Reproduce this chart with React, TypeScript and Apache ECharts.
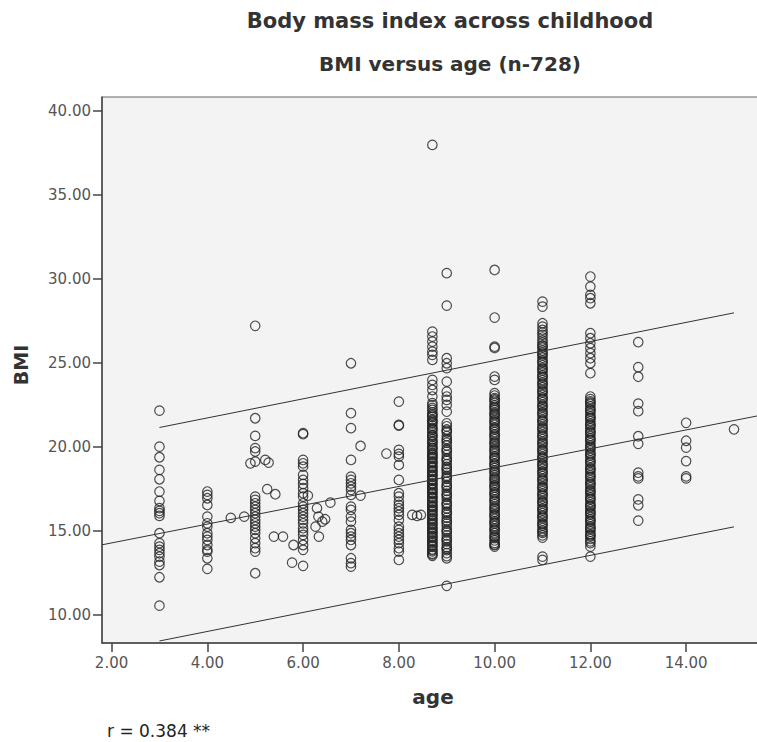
import React, { useEffect, useRef } from "react";
import * as echarts from "echarts";

// Tick values
const xTicks = [2, 4, 6, 8, 10, 12, 14];
const yTicks = [10, 15, 20, 25, 30, 35, 40];

// BMI values per age column
const age3 = [22.15, 20.01, 19.38, 18.63, 18.07, 17.34, 16.78, 16.35, 16.19, 16.05, 15.89, 14.86, 14.27, 14.06, 13.87, 13.67, 13.47, 13.17, 12.97, 12.24, 10.55];
const age4 = [17.34, 17.14, 16.94, 16.54, 15.85, 15.45, 15.25, 14.86, 14.66, 14.46, 14.16, 13.87, 13.77, 13.37, 12.74];
const age5 = [27.2, 21.7, 20.65, 19.92, 19.72, 19.12, 17.04, 16.84, 16.64, 16.44, 16.25, 16.05, 15.85, 15.65, 15.45, 15.25, 15.06, 14.86, 14.56, 14.27, 13.97, 13.77, 12.48];
const age6 = [20.81, 20.75, 19.22, 19.02, 18.82, 18.33, 18.03, 17.79, 17.54, 17.24, 17.04, 16.64, 16.44, 16.25, 16.05, 15.85, 15.65, 15.45, 15.16, 14.96, 14.76, 14.46, 14.16, 13.87, 12.92];
const age7 = [24.97, 22.0, 21.11, 19.22, 18.23, 18.03, 17.83, 17.63, 17.44, 17.14, 16.44, 16.25, 15.85, 15.55, 15.06, 14.86, 14.66, 14.46, 14.16, 13.37, 13.08, 12.87];
const age8 = [22.69, 21.3, 21.26, 19.82, 19.58, 19.42, 18.92, 18.03, 17.24, 17.04, 16.74, 16.54, 16.35, 16.15, 15.95, 15.65, 15.25, 15.06, 14.86, 14.66, 14.46, 14.27, 13.97, 13.77, 13.27];
const age8_7 = [37.96, 26.85, 26.56, 26.26, 25.96, 25.66, 25.47, 25.17, 23.98, 23.68, 23.38, 22.99,
  22.6, 22.48, 22.31, 22.2, 22.04, 21.93, 21.78, 21.62, 21.55, 21.4, 21.26, 21.13, 21.0, 20.87, 20.71, 20.6, 20.45, 20.33, 20.18, 20.05,
  19.94, 19.8, 19.66, 19.52, 19.41, 19.27, 19.13, 19.02, 18.88, 18.74, 18.6, 18.49, 18.35, 18.22, 18.08, 17.97, 17.83, 17.7, 17.56,
  17.43, 17.31, 17.18, 17.04, 16.93, 16.79, 16.65, 16.52, 16.4, 16.27, 16.13, 16.0, 15.88, 15.74, 15.6, 15.49, 15.35, 15.22, 15.08,
  14.96, 14.83, 14.7, 14.57, 14.44, 14.3, 14.18, 14.05, 13.9, 13.78, 13.65, 13.52,
  21.85, 21.47, 21.07, 20.66, 20.28, 19.9, 19.58, 19.35, 19.08, 18.8, 18.55, 18.3, 18.02, 17.78, 17.5, 17.25, 16.98, 16.72, 16.46,
  16.2, 15.95, 15.68, 15.42, 15.15, 14.9, 14.64, 14.37, 14.12, 13.85, 13.6];
const age9 = [30.33, 28.4, 25.27, 24.97, 24.68, 23.88, 23.28, 22.99, 22.79, 22.49, 22.09,
  21.4, 21.22, 21.03, 20.86, 20.64, 20.47, 20.25, 20.08, 19.88, 19.71, 19.52, 19.33, 19.16, 18.97, 18.8, 18.62, 18.46, 18.27, 18.1,
  17.92, 17.74, 17.57, 17.38, 17.21, 17.03, 16.86, 16.67, 16.51, 16.33, 16.15, 15.97, 15.78, 15.62, 15.43, 15.27, 15.08, 14.91,
  14.73, 14.56, 14.38, 14.21, 14.03, 13.86, 13.68, 13.5, 13.37, 11.73,
  20.95, 20.38, 19.8, 19.24, 18.7, 18.18, 17.66, 17.13, 16.6, 16.07, 15.55, 15.0, 14.47, 13.95];
const age10 = [30.52, 27.69, 25.96, 25.88, 24.18, 23.98,
  23.19, 23.05, 22.9, 22.74, 22.61, 22.47, 22.3, 22.18, 22.02, 21.88, 21.73, 21.6, 21.44, 21.31, 21.16, 21.02, 20.87, 20.74, 20.58,
  20.45, 20.3, 20.16, 20.01, 19.88, 19.73, 19.59, 19.44, 19.3, 19.16, 19.02, 18.87, 18.73, 18.59, 18.44, 18.3, 18.16, 18.01, 17.87,
  17.73, 17.58, 17.44, 17.3, 17.15, 17.01, 16.87, 16.72, 16.58, 16.44, 16.29, 16.15, 16.01, 15.86, 15.72, 15.58, 15.43, 15.29,
  15.15, 15.0, 14.86, 14.72, 14.57, 14.43, 14.29, 14.15, 14.06,
  22.82, 22.38, 21.95, 21.52, 21.1, 20.66, 20.23, 19.8, 19.37, 18.95, 18.52, 18.09, 17.66, 17.23, 16.8, 16.36, 15.93, 15.5, 15.07, 14.64, 14.2];
const age11 = [28.64, 28.34, 27.35, 27.15,
  26.95, 26.8, 26.66, 26.5, 26.33, 26.2, 26.04, 25.9, 25.73, 25.6, 25.44, 25.3, 25.14, 25.0, 24.85, 24.7, 24.55, 24.41, 24.26, 24.12,
  23.97, 23.82, 23.68, 23.53, 23.38, 23.24, 23.09, 22.94, 22.8, 22.65, 22.5, 22.36, 22.21, 22.06, 21.92, 21.77, 21.62, 21.48, 21.33,
  21.18, 21.04, 20.89, 20.74, 20.6, 20.45, 20.3, 20.16, 20.01, 19.86, 19.72, 19.57, 19.42, 19.28, 19.13, 18.98, 18.84, 18.69, 18.54,
  18.4, 18.25, 18.1, 17.96, 17.81, 17.66, 17.52, 17.37, 17.22, 17.08, 16.93, 16.78, 16.64, 16.49, 16.34, 16.2, 16.05, 15.9, 15.76,
  15.61, 15.46, 15.32, 15.17, 15.02, 14.88, 14.73, 14.6, 13.47, 13.27,
  26.0, 25.52, 25.07, 24.63, 24.18, 23.75, 23.3, 22.87, 22.43, 22.0, 21.55, 21.11, 20.67, 20.23, 19.8, 19.36, 18.92, 18.48, 18.04,
  17.6, 17.16, 16.72, 16.28, 15.84, 15.4, 14.96];
const age12 = [30.13, 29.53, 29.04, 28.84, 28.54, 26.76, 26.46, 26.16, 25.87, 25.57, 25.27, 24.97, 24.38,
  22.99, 22.84, 22.7, 22.55, 22.4, 22.26, 22.11, 21.97, 21.82, 21.67, 21.53, 21.38, 21.24, 21.09, 20.94, 20.8, 20.65, 20.51, 20.36,
  20.21, 20.07, 19.92, 19.78, 19.63, 19.48, 19.34, 19.19, 19.05, 18.9, 18.75, 18.61, 18.46, 18.32, 18.17, 18.02, 17.88, 17.73, 17.59,
  17.44, 17.29, 17.15, 17.0, 16.86, 16.71, 16.56, 16.42, 16.27, 16.13, 15.98, 15.83, 15.69, 15.54, 15.4, 15.25, 15.1, 14.96, 14.81,
  14.67, 14.52, 14.38, 14.27, 14.06, 13.47,
  22.63, 22.18, 21.74, 21.3, 20.86, 20.42, 19.98, 19.55, 19.11, 18.67, 18.23, 17.8, 17.36, 16.92, 16.48, 16.05, 15.61, 15.17, 14.74];
const age13 = [26.23, 24.74, 24.17, 22.57, 22.12, 20.63, 20.18, 18.46, 18.24, 18.12, 16.87, 16.52, 15.61];
const age14 = [21.43, 20.36, 19.95, 19.15, 18.24, 18.12];
const age15 = [21.04];

// Points lying between the main age columns: [age, BMI]
const offColumnPoints: number[][] = [
  [4.49, 15.77], [4.77, 15.85], [4.9, 19.02], [5.21, 19.22], [5.28, 19.06], [5.25, 17.48], [5.42, 17.18],
  [5.39, 14.66], [5.58, 14.66], [5.8, 14.16], [5.77, 13.11], [6.1, 17.1], [6.57, 16.68], [6.29, 16.35],
  [6.32, 15.85], [6.4, 15.55], [6.46, 15.69], [6.26, 15.25], [6.33, 14.66], [7.2, 20.05], [7.2, 17.1],
  [7.74, 19.6], [8.28, 15.95], [8.38, 15.89], [8.46, 15.95],
];

// Fitted line and prediction bounds, endpoints: [age, BMI]
const fitLine = [[1.8, 14.17], [15.49, 21.84]];
const upperBound = [[3, 21.15], [15, 27.97]];
const lowerBound = [[3, 8.45], [15, 15.24]];

const columns: [number, number[]][] = [
  [3, age3], [4, age4], [5, age5], [6, age6], [7, age7], [8, age8], [8.7, age8_7],
  [9, age9], [10, age10], [11, age11], [12, age12], [13, age13], [14, age14], [15, age15],
];

export default function App() {
  const ref = useRef<HTMLDivElement>(null);
  useEffect(() => {
    const chart = echarts.init(ref.current as HTMLDivElement, null, { renderer: "svg" });
    const points = [
      ...columns.flatMap(([a, vals]) => vals.map((v) => [a, v])),
      ...offColumnPoints,
    ];
    const lineStyle = { color: "#333", width: 1 };
    const labelStyle = { color: "#555", fontSize: 15, fontFamily: "DejaVu Sans" };
    chart.setOption({
      animation: false,
      grid: {
        left: 102, top: 97, width: 700, height: 546, show: true,
        outerBoundsMode: "none", containLabel: false,
        backgroundColor: "#f3f3f3", borderColor: "#666", borderWidth: 1,
      },
      xAxis: {
        type: "value", min: 1.8, max: 16.42,
        splitLine: { show: false },
        axisLine: { show: true, onZero: false, lineStyle: { color: "#444", width: 1.5 } },
        axisTick: { show: true, length: 9, lineStyle: { color: "#444", width: 1.5 }, customValues: xTicks },
        axisLabel: { ...labelStyle, customValues: xTicks, margin: 12, formatter: (v: number) => v.toFixed(2) },
      },
      yAxis: {
        type: "value", min: 8.33, max: 40.81,
        splitLine: { show: false },
        axisLine: { show: true, onZero: false, lineStyle: { color: "#444", width: 1.5 } },
        axisTick: { show: true, length: 9, lineStyle: { color: "#444", width: 1.5 }, customValues: yTicks },
        axisLabel: { ...labelStyle, customValues: yTicks, margin: 11, formatter: (v: number) => v.toFixed(2) },
      },
      graphic: [
        { type: "text", x: 450, y: 21, style: { text: "Body mass index across childhood", fontSize: 21, fontWeight: "bold", fontFamily: "DejaVu Sans", fill: "#333", align: "center", verticalAlign: "middle" } },
        { type: "text", x: 450, y: 64, style: { text: "BMI versus age (n-728)", fontSize: 20, fontWeight: "bold", fontFamily: "DejaVu Sans", fill: "#333", align: "center", verticalAlign: "middle" } },
        { type: "text", x: 433, y: 697, style: { text: "age", fontSize: 20, fontWeight: "bold", fontFamily: "DejaVu Sans", fill: "#333", align: "center", verticalAlign: "middle" } },
        { type: "text", x: 21, y: 365, rotation: Math.PI / 2, style: { text: "BMI", fontSize: 19, fontWeight: "bold", fontFamily: "DejaVu Sans", fill: "#333", align: "center", verticalAlign: "middle" } },
        { type: "text", x: 107, y: 731, style: { text: "r = 0.384 **", fontSize: 17, fontFamily: "DejaVu Sans", fill: "#222", align: "left", verticalAlign: "middle" } },
      ],
      series: [
        {
          type: "scatter", data: points, symbol: "circle", symbolSize: 9.5,
          itemStyle: { color: "rgba(0,0,0,0)", borderColor: "#222", borderWidth: 1.2 },
          silent: true,
        },
        { type: "line", data: fitLine, symbol: "none", lineStyle, silent: true },
        { type: "line", data: upperBound, symbol: "none", lineStyle, silent: true },
        { type: "line", data: lowerBound, symbol: "none", lineStyle, silent: true },
      ],
    });
    return () => chart.dispose();
  }, []);
  return <div ref={ref} style={{ position: "absolute", left: 0, top: 0, width: 757, height: 742 }} />;
}
